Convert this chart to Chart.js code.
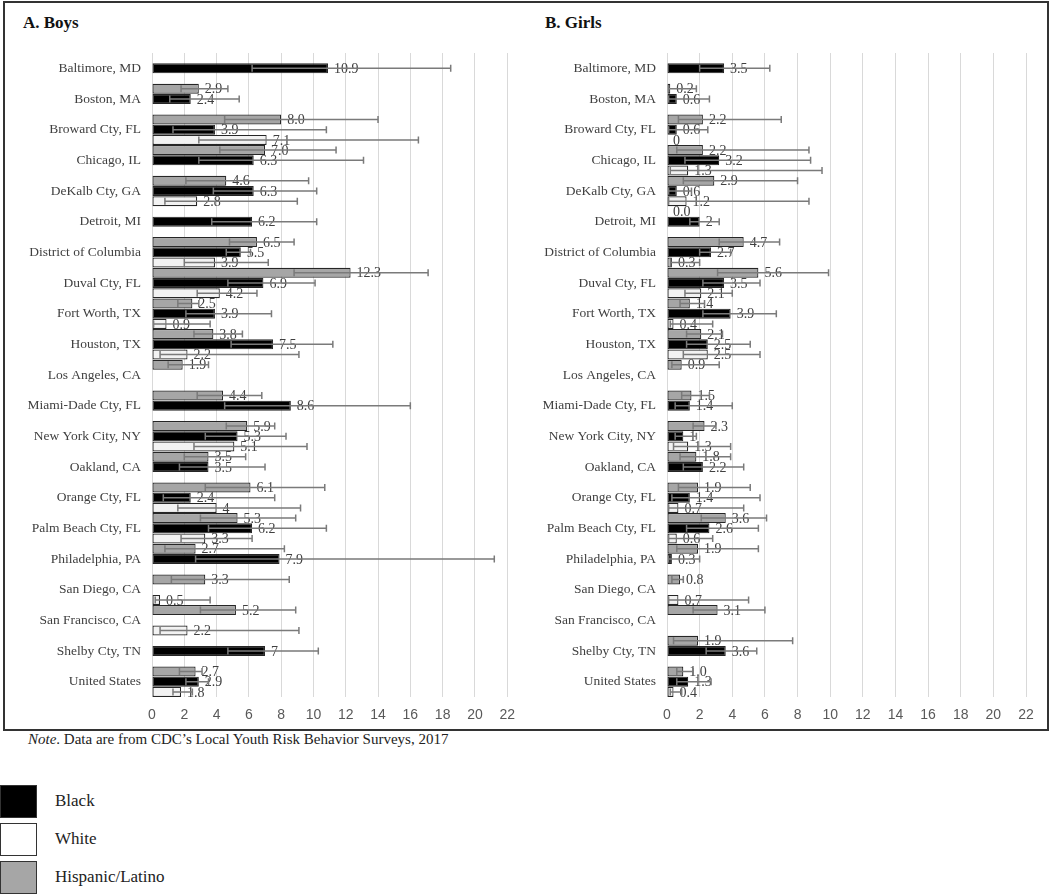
<!DOCTYPE html>
<html>
<head>
<meta charset="utf-8">
<script src="https://cdn.jsdelivr.net/npm/chart.js@4.4.1/dist/chart.umd.min.js"></script>
<style>
  body {
    margin: 0;
    background: #fff;
    width: 1050px;
    height: 894px;
    position: relative;
    overflow: hidden;
    font-family: "Liberation Serif", "Times New Roman", serif;
    color: #222;
  }
  #frame {
    position: absolute;
    left: 3px;
    top: 1px;
    width: 1042px;
    height: 726px;
    border: 2px solid #333;
  }
  .title {
    position: absolute;
    top: 13px;
    font-size: 17px;
    line-height: 20px;
    font-weight: bold;
    color: #111;
  }
  canvas {
    position: absolute;
    top: 0;
  }
  #note {
    position: absolute;
    left: 28px;
    top: 730px;
    font-size: 15px;
    line-height: 18px;
  }
  .swatch {
    position: absolute;
    left: 0;
    width: 35px;
    height: 31px;
    border: 1px solid #333;
  }
  .legtext {
    position: absolute;
    left: 55px;
    font-size: 17px;
    line-height: 20px;
  }
</style>
</head>
<body>
<div id="frame"></div>
<div class="title" style="left:23px">A. Boys</div>
<div class="title" style="left:545px">B. Girls</div>
<canvas id="boys" width="525" height="730" style="left:0px"></canvas>
<canvas id="girls" width="530" height="730" style="left:515px"></canvas>
<div id="note"><i>Note</i>. Data are from CDC’s Local Youth Risk Behavior Surveys, 2017</div>

<div class="swatch" style="top:785px;background:#000"></div>
<div class="legtext" style="top:791px">Black</div>
<div class="swatch" style="top:823px;background:#fff"></div>
<div class="legtext" style="top:829px">White</div>
<div class="swatch" style="top:861px;background:#a6a6a6"></div>
<div class="legtext" style="top:867px">Hispanic/Latino</div>

<script>
const cities = [
  "Baltimore, MD", "Boston, MA", "Broward Cty, FL", "Chicago, IL", "DeKalb Cty, GA",
  "Detroit, MI", "District of Columbia", "Duval Cty, FL", "Fort Worth, TX", "Houston, TX",
  "Los Angeles, CA", "Miami-Dade Cty, FL", "New York City, NY", "Oakland, CA", "Orange Cty, FL",
  "Palm Beach Cty, FL", "Philadelphia, PA", "San Diego, CA", "San Francisco, CA", "Shelby Cty, TN",
  "United States"
];
const xTicks = [0, 2, 4, 6, 8, 10, 12, 14, 16, 18, 20, 22];

// Boys
const boysHisp = [null, 2.9, 8.0, 7.0, 4.6, null, 6.5, 12.3, 2.5, 3.8, 1.9, 4.4, 5.9, 3.5, 6.1, 5.3, 2.7, 3.3, 5.2, null, 2.7];
const boysHispText = [null, "2.9", "8.0", "7.0", "4.6", null, "6.5", "12.3", "2.5", "3.8", "1.9", "4.4", "5.9", "3.5", "6.1", "5.3", "2.7", "3.3", "5.2", null, "2.7"];
const boysHispLo = [null, 1.8, 4.5, 4.2, 2.1, null, 4.8, 8.8, 1.6, 2.6, 1.0, 2.8, 4.6, 2.0, 3.3, 3.0, 0.8, 1.2, 3.0, null, 1.7];
const boysHispHi = [null, 4.7, 14.0, 11.4, 9.7, null, 8.8, 17.1, 2.9, 5.6, 3.5, 6.8, 7.6, 5.8, 10.7, 8.9, 8.2, 8.5, 8.9, null, 3.1];

const boysBlack = [10.9, 2.4, 3.9, 6.3, 6.3, 6.2, 5.5, 6.9, 3.9, 7.5, null, 8.6, 5.3, 3.5, 2.4, 6.2, 7.9, null, null, 7, 2.9];
const boysBlackText = ["10.9", "2.4", "3.9", "6.3", "6.3", "6.2", "5.5", "6.9", "3.9", "7.5", null, "8.6", "5.3", "3.5", "2.4", "6.2", "7.9", null, null, "7", "2.9"];
const boysBlackLo = [6.2, 1.1, 1.3, 2.9, 3.8, 3.7, 4.6, 4.7, 2.1, 4.9, null, 4.5, 3.3, 1.7, 0.7, 3.5, 2.7, null, null, 4.7, 2.1];
const boysBlackHi = [18.5, 5.4, 10.8, 13.1, 10.2, 10.2, 6.1, 10.1, 7.4, 11.2, null, 16.0, 8.3, 7.0, 7.6, 10.8, 21.2, null, null, 10.3, 3.5];

const boysWhite = [null, null, 7.1, null, 2.8, null, 3.9, 4.2, 0.9, 2.2, null, null, 5.1, null, 4, 3.3, null, 0.5, 2.2, null, 1.8];
const boysWhiteText = [null, null, "7.1", null, "2.8", null, "3.9", "4.2", "0.9", "2.2", null, null, "5.1", null, "4", "3.3", null, "0.5", "2.2", null, "1.8"];
const boysWhiteLo = [null, null, 2.9, null, 0.8, null, 2.0, 2.8, 0.1, 0.5, null, null, 2.6, null, 1.6, 1.8, null, 0.2, 0.5, null, 1.3];
const boysWhiteHi = [null, null, 16.5, null, 9.0, null, 7.2, 6.5, 3.6, 9.1, null, null, 9.6, null, 9.2, 6.2, null, 3.6, 9.1, null, 2.5];

// Girls
const girlsHisp = [null, 0.2, 2.2, 2.2, 2.9, 0.0, 4.7, 5.6, 1.4, 2.1, 0.9, 1.5, 2.3, 1.8, 1.9, 3.6, 1.9, 0.8, 3.1, 1.9, 1.0];
const girlsHispText = [null, "0.2", "2.2", "2.2", "2.9", "0.0", "4.7", "5.6", "1.4", "2.1", "0.9", "1.5", "2.3", "1.8", "1.9", "3.6", "1.9", "0.8", "3.1", "1.9", "1.0"];
const girlsHispLo = [null, 0.1, 0.7, 0.6, 1.0, null, 3.2, 3.1, 0.8, 1.2, 0.3, 0.9, 1.6, 0.8, 0.7, 2.1, 0.6, 0.3, 1.6, 0.4, 0.6];
const girlsHispHi = [null, 1.8, 7.0, 8.7, 8.0, null, 6.9, 9.9, 2.3, 3.4, 3.2, 2.6, 3.0, 3.9, 5.1, 6.1, 5.6, 1.0, 6.0, 7.7, 1.6];

const girlsBlack = [3.5, 0.6, 0.6, 3.2, 0.6, 2, 2.7, 3.5, 3.9, 2.5, null, 1.4, 1, 2.2, 1.4, 2.6, 0.3, null, null, 3.6, 1.3];
const girlsBlackText = ["3.5", "0.6", "0.6", "3.2", "0.6", "2", "2.7", "3.5", "3.9", "2.5", null, "1.4", "1", "2.2", "1.4", "2.6", "0.3", null, null, "3.6", "1.3"];
const girlsBlackLo = [2.0, 0.1, 0.1, 1.1, 0.1, 1.4, 2.0, 2.2, 2.2, 1.2, null, 0.5, 0.5, 1.0, 0.3, 1.2, 0.1, null, null, 2.4, 0.6];
const girlsBlackHi = [6.3, 2.6, 2.5, 8.8, 1.5, 3.2, 3.9, 5.7, 6.7, 5.1, null, 4.0, 1.8, 4.7, 5.7, 5.6, 2.0, null, null, 5.5, 2.7];

const girlsWhite = [null, null, 0, 1.3, 1.2, null, 0.3, 2.1, 0.4, 2.5, null, null, 1.3, null, 0.7, 0.6, null, 0.7, null, null, 0.4];
const girlsWhiteText = [null, null, "0", "1.3", "1.2", null, "0.3", "2.1", "0.4", "2.5", null, null, "1.3", null, "0.7", "0.6", null, "0.7", null, null, "0.4"];
const girlsWhiteLo = [null, null, null, 0.2, 0.1, null, 0.2, 1.1, 0.2, 1.0, null, null, 0.4, null, 0.1, 0.1, null, 0.1, null, null, 0.2];
const girlsWhiteHi = [null, null, null, 9.5, 8.7, null, 2.0, 4.0, 2.8, 5.7, null, null, 3.9, null, 4.7, 2.8, null, 5.0, null, null, 0.9];

const serif = "'Liberation Serif', 'Times New Roman', serif";

// value labels + error bars, placed with the chart's own scales
const errorBars = {
  id: "errorBars",
  afterDatasetsDraw(chart) {
    const ctx = chart.ctx;
    const xScale = chart.scales.x;
    chart.data.datasets.forEach((ds, i) => {
      const meta = chart.getDatasetMeta(i);
      meta.data.forEach((bar, j) => {
        if (ds.data[j] === null) return;
        const y = bar.y;
        ctx.save();
        ctx.font = "14px " + serif;
        ctx.fillStyle = "#404040";
        ctx.textBaseline = "middle";
        ctx.fillText(ds.valueText[j], xScale.getPixelForValue(ds.data[j]) + 6, y + 1);
        if (ds.lo[j] !== null) {
          const x1 = xScale.getPixelForValue(ds.lo[j]);
          const x2 = xScale.getPixelForValue(ds.hi[j]);
          ctx.strokeStyle = "#7a7a7a";
          ctx.lineWidth = 1.5;
          ctx.beginPath();
          ctx.moveTo(x1, y);
          ctx.lineTo(x2, y);
          ctx.moveTo(x1, y - 3.5);
          ctx.lineTo(x1, y + 3.5);
          ctx.moveTo(x2, y - 3.5);
          ctx.lineTo(x2, y + 3.5);
          ctx.stroke();
        }
        ctx.restore();
      });
    });
  },
};

function series(label, data, text, lo, hi, fill) {
  return {
    label: label,
    data: data,
    valueText: text,
    lo: lo,
    hi: hi,
    backgroundColor: fill,
    borderColor: "#262626",
    borderWidth: 1.2,
    borderSkipped: false,
    categoryPercentage: 1.0,
    barPercentage: 0.98,
  };
}

function buildChart(id, padRight, hisp, black, white) {
  new Chart(document.getElementById(id), {
    type: "bar",
    data: {
      labels: cities,
      datasets: [hisp, black, white],
    },
    plugins: [errorBars],
    options: {
      responsive: false,
      animation: false,
      indexAxis: "y",
      layout: { padding: { top: 53, right: padRight, left: 0, bottom: 0 } },
      plugins: {
        legend: { display: false },
        tooltip: { enabled: false },
      },
      scales: {
        x: {
          min: 0,
          max: 22,
          afterBuildTicks: (scale) => {
            scale.ticks = xTicks.map((v) => ({ value: v }));
          },
          afterFit: (scale) => {
            scale.height = 33;
          },
          grid: { color: "#d9d9d9", lineWidth: 1, drawTicks: false },
          border: { display: false },
          ticks: {
            padding: 10,
            color: "#595959",
            font: { family: "'Liberation Sans', Arial, sans-serif", size: 14 },
          },
        },
        y: {
          afterFit: (scale) => {
            scale.width = 152;
          },
          grid: { display: false, drawTicks: false },
          border: { display: false },
          ticks: {
            autoSkip: false,
            padding: 11,
            color: "#404040",
            font: { family: serif, size: 13.5 },
          },
        },
      },
    },
  });
}

buildChart(
  "boys",
  15,
  series("Hispanic/Latino", boysHisp, boysHispText, boysHispLo, boysHispHi, "#a6a6a6"),
  series("Black", boysBlack, boysBlackText, boysBlackLo, boysBlackHi, "#000000"),
  series("White", boysWhite, boysWhiteText, boysWhiteLo, boysWhiteHi, "#f2f2f2")
);

buildChart(
  "girls",
  19,
  series("Hispanic/Latino", girlsHisp, girlsHispText, girlsHispLo, girlsHispHi, "#a6a6a6"),
  series("Black", girlsBlack, girlsBlackText, girlsBlackLo, girlsBlackHi, "#000000"),
  series("White", girlsWhite, girlsWhiteText, girlsWhiteLo, girlsWhiteHi, "#f2f2f2")
);
</script>
</body>
</html>
